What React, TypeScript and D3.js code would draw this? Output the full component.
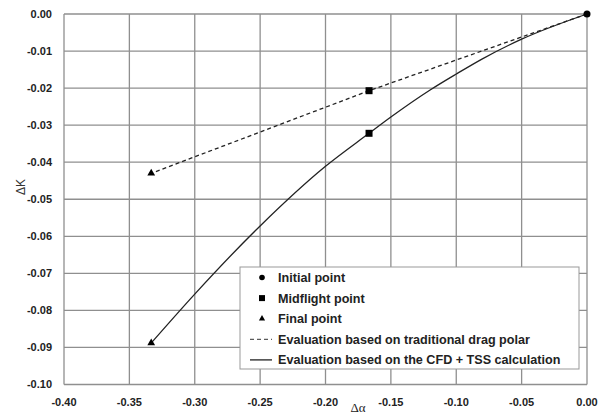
import React from "react";
import * as d3 from "d3";

const xTicks = [-0.4, -0.35, -0.3, -0.25, -0.2, -0.15, -0.1, -0.05, 0];
const yTicks = [0, -0.01, -0.02, -0.03, -0.04, -0.05, -0.06, -0.07, -0.08, -0.09, -0.1];

// Evaluation based on traditional drag polar (dashed)
const polarX = [0, -0.1667, -0.3333];
const polarY = [0, -0.0207, -0.043];

// Evaluation based on the CFD + TSS calculation (solid)
const cfdX = [0, -0.05, -0.08, -0.1, -0.12, -0.15, -0.1667, -0.2, -0.25, -0.3, -0.3333];
const cfdY = [0, -0.0068, -0.0121, -0.0162, -0.0205, -0.0278, -0.0322, -0.0411, -0.0572, -0.0756, -0.0888];

const legendItems = [
  "Initial point",
  "Midflight point",
  "Final point",
  "Evaluation based on traditional drag polar",
  "Evaluation based on the CFD + TSS calculation",
];

const W = 609;
const H = 416;
const left = 64;
const right = 587;
const top = 14;
const bottom = 384.5;

export default function App() {
  const x = d3.scaleLinear().domain([-0.4, 0]).range([left, right]);
  const y = d3.scaleLinear().domain([-0.1, 0]).range([bottom, top]);
  const line = d3
    .line<[number, number]>()
    .x((d) => x(d[0]))
    .y((d) => y(d[1]));
  const smooth = d3
    .line<[number, number]>()
    .x((d) => x(d[0]))
    .y((d) => y(d[1]))
    .curve(d3.curveMonotoneX);

  const polarPts = polarX.map((v, i) => [v, polarY[i]] as [number, number]);
  const cfdPts = cfdX.map((v, i) => [v, cfdY[i]] as [number, number]);
  const cfdSorted = [...cfdPts].sort((a, b) => a[0] - b[0]);

  const fmt = (v: number) => d3.format(".2f")(v).replace("\u2212", "-");
  const tri = d3.symbol().type(d3.symbolTriangle).size(26)() as string;

  const mid = 0.1667;
  const lx = 240;
  const ly = 267;
  const rowY = (i: number) => ly + 10.5 + i * 20.6;

  return (
    <svg width={W} height={H} style={{ position: "absolute", left: 0, top: 0, background: "#fff" }}>
      <rect width={W} height={H} fill="#fff" />
      {xTicks.map((t) => (
        <line key={"gx" + t} x1={x(t)} x2={x(t)} y1={top} y2={bottom} stroke="#8f8f8f" strokeWidth={1.3} />
      ))}
      {yTicks.map((t) => (
        <line key={"gy" + t} x1={left} x2={right} y1={y(t)} y2={y(t)} stroke="#8f8f8f" strokeWidth={1.3} />
      ))}
      {yTicks.map((t) => (
        <text
          key={"ty" + t}
          x={52}
          y={y(t)}
          dy="0.35em"
          textAnchor="end"
          fontFamily="Liberation Sans, Arial, sans-serif"
          fontWeight="bold"
          fontSize={11}
          fill="#222"
        >
          {fmt(t)}
        </text>
      ))}
      {xTicks.map((t) => (
        <text
          key={"tx" + t}
          x={x(t)}
          y={406}
          textAnchor="middle"
          fontFamily="Liberation Sans, Arial, sans-serif"
          fontWeight="bold"
          fontSize={11}
          fill="#222"
        >
          {fmt(t)}
        </text>
      ))}
      <text
        transform={`translate(25,187) rotate(-90)`}
        textAnchor="middle"
        fontFamily="Liberation Sans, Arial, sans-serif"
        fontSize={12}
        fill="#333"
      >
        ΔK
      </text>
      <text x={358} y={412} textAnchor="middle" fontFamily="Liberation Serif, Times New Roman, serif" fontSize={13} fill="#222">
        Δα
      </text>

      <path d={line(polarPts) as string} fill="none" stroke="#222" strokeWidth={1.3} strokeDasharray="4,3" />
      <path d={smooth(cfdSorted) as string} fill="none" stroke="#222" strokeWidth={1.3} />

      <circle cx={x(0)} cy={y(0)} r={3.5} fill="#000" />
      <rect x={x(-mid) - 3.5} y={y(polarY[1]) - 3.5} width={7} height={7} fill="#000" />
      <rect x={x(-mid) - 3.5} y={y(cfdY[6]) - 3.5} width={7} height={7} fill="#000" />
      <path d={tri} transform={`translate(${x(polarX[2])},${y(polarY[2])})`} fill="#000" />
      <path d={tri} transform={`translate(${x(cfdX[10])},${y(cfdY[10])})`} fill="#000" />

      <rect x={lx} y={ly} width={339} height={102} fill="#fff" stroke="#999" strokeWidth={1} />
      {legendItems.map((label, i) => (
        <text
          key={label}
          x={278}
          y={rowY(i)}
          dy="0.35em"
          fontFamily="Liberation Sans, Arial, sans-serif"
          fontWeight="bold"
          fontSize={12.6}
          fill="#222"
        >
          {label}
        </text>
      ))}
      <circle cx={262} cy={rowY(0)} r={2.8} fill="#000" />
      <rect x={259} y={rowY(1) - 3} width={6} height={6} fill="#000" />
      <path d={tri} transform={`translate(262,${rowY(2)}) scale(0.8)`} fill="#000" />
      <line x1={250} x2={272} y1={rowY(3)} y2={rowY(3)} stroke="#333" strokeWidth={1} strokeDasharray="4,3" />
      <line x1={250} x2={272} y1={rowY(4)} y2={rowY(4)} stroke="#222" strokeWidth={1.3} />
    </svg>
  );
}
